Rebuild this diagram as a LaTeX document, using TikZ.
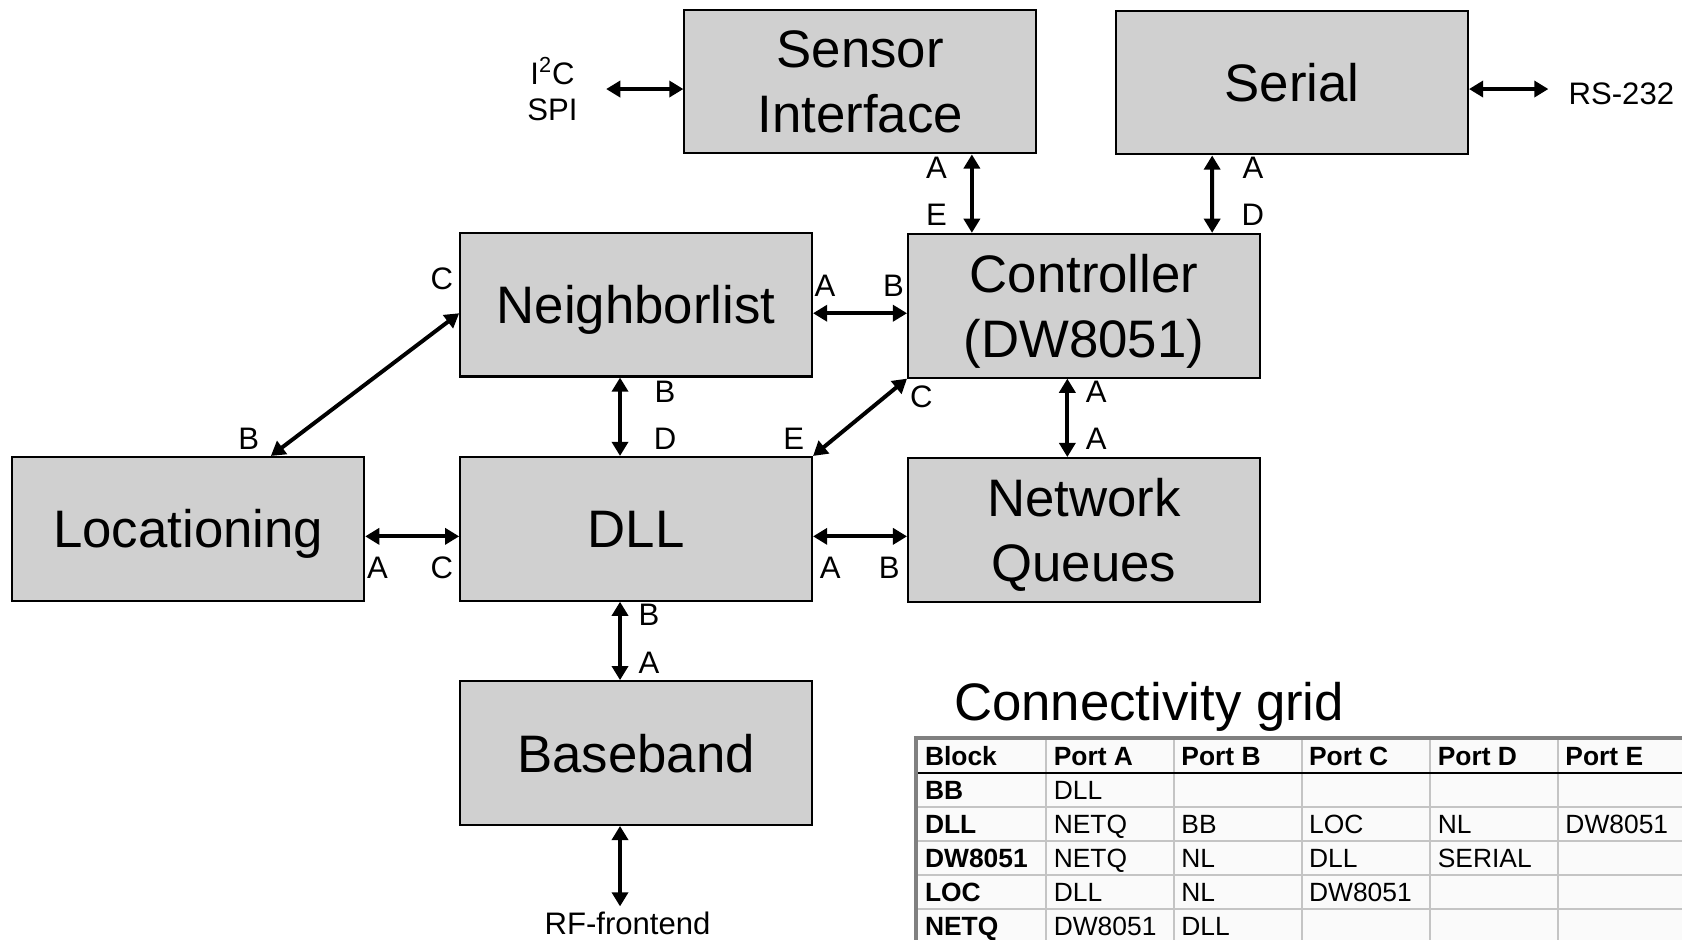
\documentclass[tikz,border=0pt]{standalone}
\usepackage{fontspec}
\setmainfont{Liberation Sans}
\usetikzlibrary{arrows.meta,calc,positioning}
\definecolor{blockgray}{RGB}{208,208,208}
\definecolor{gridgray}{RGB}{196,196,196}
\definecolor{framegray}{RGB}{128,128,128}
\definecolor{cellwhite}{RGB}{250,250,250}
\newcommand{\BigFont}{\fontsize{28}{34.5}\selectfont}
\newcommand{\PortFont}{\fontsize{16.5}{19}\selectfont}
\newcommand{\GridFont}{\fontsize{14}{16}\selectfont}
\tikzset{
  block/.style={draw, line width=1.1pt, fill=blockgray, minimum width=6.56cm,
                minimum height=2.68cm, align=center, font=\BigFont, inner sep=0pt,
                text depth=0pt},
  link/.style={{Triangle[length=7.5pt,width=8.5pt]}-{Triangle[length=7.5pt,width=8.5pt]}, line width=2.1pt},
  port/.style={font=\PortFont, inner sep=0pt},
  ext/.style={font=\PortFont, align=center, inner sep=0pt},
  cell/.style={font=\GridFont, anchor=base west, inner sep=0pt}
}

\begin{document}
\begin{tikzpicture}[x=0.02cm, y=-0.02cm]
  \useasboundingbox (0,0) rectangle (1568,876);
  % blocks
  \node[block] (sens) at (802,76)    {Sensor\\Interface};
  \node[block] (ser)  at (1204.5,77) {Serial};
  \node[block] (nl)   at (593,284)   {Neighborlist};
  \node[block] (ctrl) at (1010.5,285) {Controller\\(DW8051)};
  \node[block] (loc)  at (175.5,493) {Locationing};
  \node[block] (dll)  at (593,493)   {DLL};
  \node[block] (netq) at (1010.5,494) {Network\\Queues};
  \node[block] (bb)   at (593,702)   {Baseband};
  % outside interfaces
  \node[ext] (iic) at (515,83) {I\textsuperscript{2}C\\SPI};
  \node[ext, anchor=west] (rs) at (1462,87) {RS-232};
  \node[ext, anchor=base] (rf) at (585,871) {RF-frontend};
  \draw[link] ($(sens.west)+(0,7)$) -- ++(-72,0);
  \draw[link] ($(ser.east)+(0,6)$) -- ++(74,0);
  \draw[link] ($(bb.south)+(-15,0)$) -- ++(0,75);
  % connections between blocks
  \draw[link] ($(sens.south)+(104,0)$) -- ($(ctrl.north)+(-104.5,0)$);
  \draw[link] ($(ser.south)+(-74.5,0)$) -- ($(ctrl.north)+(119.5,0)$);
  \draw[link] ($(nl.east)+(0,8)$) -- ($(ctrl.west)+(0,7)$);
  \draw[link] ($(nl.west)+(0,8)$) -- ($(loc.north)+(77,0)$);
  \draw[link] ($(nl.south)+(-15,0)$) -- ($(dll.north)+(-15,0)$);
  \draw[link] (ctrl.south west) -- (dll.north east);
  \draw[link] ($(ctrl.south)+(-15.5,0)$) -- ($(netq.north)+(-15.5,0)$);
  \draw[link] ($(loc.east)+(0,7)$) -- ($(dll.west)+(0,7)$);
  \draw[link] ($(dll.east)+(0,7)$) -- ($(netq.west)+(0,6)$);
  \draw[link] ($(dll.south)+(-15,0)$) -- ($(bb.north)+(-15,0)$);
  % port letters
  \node[port] (pSa) at (873,156)  {A};
  \node[port] (pCe) at (873,200)  {E};
  \node[port] (pRa) at (1168,156) {A};
  \node[port] (pCd) at (1168,200) {D};
  \node[port] (pNa) at (769,266)  {A};
  \node[port] (pCb) at (833,266)  {B};
  \node[port] (pNc) at (412,260)  {C};
  \node[port] (pLb) at (232,409)  {B};
  \node[port] (pNb) at (620,365)  {B};
  \node[port] (pDd) at (620,409)  {D};
  \node[port] (pCc) at (859,370)  {C};
  \node[port] (pDe) at (740,409)  {E};
  \node[port] (pCa) at (1022,365) {A};
  \node[port] (pQa) at (1022,409) {A};
  \node[port] (pLa) at (352,529)  {A};
  \node[port] (pDc) at (412,529)  {C};
  \node[port] (pDa) at (774,529)  {A};
  \node[port] (pQb) at (829,529)  {B};
  \node[port] (pDb) at (605,573)  {B};
  \node[port] (pBa) at (605,618)  {A};
  % connectivity grid
  \node[font=\BigFont, anchor=base west, inner sep=0pt] (title) at (889,672) {Connectivity grid};
  \begin{scope}
    \clip (852,686) rectangle (1568,876);
    \fill[cellwhite] (852,686) rectangle (1600,900);
    \foreach \gx in {975,1094,1214,1333,1452}
      \draw[gridgray, line width=1.1pt] (\gx,690) -- (\gx,900);
    \foreach \k in {1,...,4}
      \draw[gridgray, line width=1.1pt] (856,721+31.6*\k) -- (1600,721+31.6*\k);
    \draw[line width=1.1pt] (856,721) -- (1600,721);
    \draw[framegray, line width=2.3pt] (854,686) -- (854,900);
    \draw[framegray, line width=2.3pt] (852,688) -- (1600,688);
    \foreach \lbl [count=\j from 0] in {Block,Port A,Port B,Port C,Port D,Port E}{
      \pgfmathsetmacro{\cx}{{862,982,1101,1220,1340,1459}[\j]}
      \node[cell, font=\GridFont\bfseries] (h\j) at (\cx,714) {\lbl};
    }
    \foreach \rr/\cc/\val in {1/0/BB,1/1/DLL,
        2/0/DLL,2/1/NETQ,2/2/BB,2/3/LOC,2/4/NL,2/5/DW8051,
        3/0/DW8051,3/1/NETQ,3/2/NL,3/3/DLL,3/4/SERIAL,
        4/0/LOC,4/1/DLL,4/2/NL,4/3/DW8051,
        5/0/NETQ,5/1/DW8051,5/2/DLL}{
      \pgfmathsetmacro{\cx}{{862,982,1101,1220,1340,1459}[\cc]}
      \pgfmathsetmacro{\cy}{714+31.6*\rr}
      \node[cell] (c\rr\cc) at (\cx,\cy) {\ifnum\cc=0 \bfseries\fi\val};
    }
  \end{scope}
\end{tikzpicture}
\end{document}
